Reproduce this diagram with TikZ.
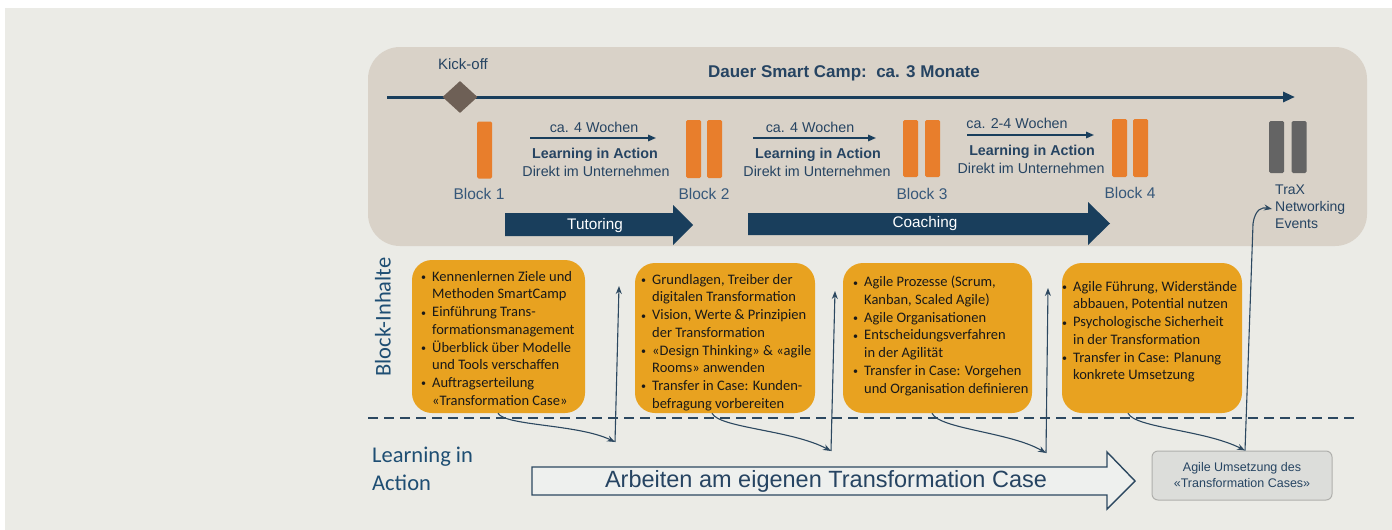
\documentclass[tikz,border=0pt]{standalone}
\usepackage{fontspec}
\setmainfont{Liberation Sans}
\newfontfamily\carlito{Carlito}
\usetikzlibrary{arrows.meta,shapes.geometric,calc}
\definecolor{bgc}{RGB}{235,235,230}
\definecolor{panelc}{RGB}{217,210,200}
\definecolor{navy}{RGB}{25,62,92}
\definecolor{txtc}{RGB}{38,68,98}
\definecolor{blkc}{RGB}{55,88,122}
\definecolor{barc}{RGB}{232,126,44}
\definecolor{boxc}{RGB}{232,162,32}
\definecolor{diac}{RGB}{110,96,86}
\definecolor{greybarc}{RGB}{100,100,100}
\definecolor{connc}{RGB}{44,72,96}
\definecolor{agc}{RGB}{220,221,218}
\definecolor{agb}{RGB}{175,175,172}
\definecolor{bigfill}{RGB}{238,240,238}
\definecolor{sidec}{RGB}{30,78,115}
\newcommand\bl{\makebox[11pt][l]{\raisebox{0.6pt}{\fontsize{10}{10}\selectfont\textbullet}}}
\newcommand\cl{\hspace*{11pt}}
\begin{document}
\begin{tikzpicture}[x=1pt,y=-1pt,
  panelst/.style={fill=panelc, draw=none, rounded corners=32pt, inner sep=0, minimum width=999pt, minimum height=199pt},
  bar/.style={fill=barc, draw=none, inner sep=0, minimum width=15pt, rounded corners=1.5pt},
  gbar/.style={fill=greybarc, draw=none, inner sep=0, minimum width=15pt, rounded corners=1.5pt},
  toptext/.style={text=txtc, inner sep=0, font=\fontsize{14.3}{17}\selectfont},
  boldtext/.style={text=txtc, inner sep=0, font=\bfseries\fontsize{14.3}{17}\selectfont},
  blocklbl/.style={text=blkc, inner sep=0, font=\fontsize{15.5}{18}\selectfont},
  weeks/.style={draw=navy, line width=1.6pt, -{Triangle[length=8pt,width=6.5pt]}},
  fat/.style={fill=navy, draw=none},
  fattext/.style={text=white, inner sep=0, font=\fontsize{15.3}{18}\selectfont},
  cbox/.style={fill=boxc, draw=none, rounded corners=20pt, inner sep=0},
  ctext/.style={anchor=north west, inner sep=0, align=left, text=black!90, font=\carlito\fontsize{14.5}{17.7}\selectfont},
  conn/.style={draw=connc, line width=1.1pt, -{Stealth[length=8pt,width=6pt]}},
  sidelbl/.style={text=sidec, inner sep=0, font=\carlito\fontsize{22.5}{28}\selectfont}
]
\useasboundingbox (0,0) rectangle (1392,530);
\fill[white] (0,0) rectangle (1392,530);
\fill[bgc] (5,8) rectangle (1392,530);

% top panel
\node[panelst] (panel) at (867.5,146.5) {};

% timeline
\coordinate (tl0) at (387,97);
\coordinate (tl1) at (1295,97);
\draw[navy, line width=3pt, -{Triangle[length=12pt,width=10pt]}] (tl0) -- (tl1);
\node[diamond, fill=diac, draw=none, inner sep=0, minimum width=35pt, minimum height=32pt] (kick) at (460,97) {};
\node[text=txtc, inner sep=0, font=\fontsize{15}{18}\selectfont] (kicklbl) at (463,64) {Kick-off};
\node[text=txtc, inner sep=0, font=\bfseries\fontsize{17}{20}\selectfont] (dauer) at (844,73) {Dauer Smart Camp:\ \ ca. 3 Monate};

% blocks
\node[bar, minimum height=57pt] (b1a) at (484.5,150) {};
\node[blocklbl] (b1lbl) at (479,194) {Block 1};
\node[bar, minimum height=58pt] (b2a) at (693.5,149) {};
\node[bar, minimum height=58pt] (b2b) at (714.5,149) {};
\node[blocklbl] (b2lbl) at (704,194) {Block 2};
\node[bar, minimum height=57pt] (b3a) at (910.5,148.5) {};
\node[bar, minimum height=57pt] (b3b) at (932.5,148.5) {};
\node[blocklbl] (b3lbl) at (922,194) {Block 3};
\node[bar, minimum height=58pt] (b4a) at (1119.5,148) {};
\node[bar, minimum height=58pt] (b4b) at (1140.5,148) {};
\node[blocklbl] (b4lbl) at (1130,193) {Block 4};
\node[gbar, minimum height=52pt] (t1) at (1276.5,147) {};
\node[gbar, minimum height=52pt] (t2) at (1299,147) {};
\node[text=txtc, inner sep=0, anchor=north west, align=left, font=\fontsize{14}{16.7}\selectfont] (trax) at (1275,185) {TraX\\Networking\\Events};

% weeks segments
\node[toptext] (w1lbl) at (594,127) {ca. 4 Wochen};
\coordinate (w1a) at (530,138); \coordinate (w1b) at (656,138);
\draw[weeks] (w1a) -- (w1b);
\node[boldtext] (l1) at (595,155) {Learning in Action};
\node[toptext] (d1) at (596,171) {Direkt im Unternehmen};

\node[toptext] (w2lbl) at (810,127) {ca. 4 Wochen};
\coordinate (w2a) at (753,138); \coordinate (w2b) at (876,138);
\draw[weeks] (w2a) -- (w2b);
\node[boldtext] (l2) at (818,155) {Learning in Action};
\node[toptext] (d2) at (817,171) {Direkt im Unternehmen};

\node[toptext] (w3lbl) at (1017,123) {ca. 2-4 Wochen};
\coordinate (w3a) at (967,135); \coordinate (w3b) at (1094,135);
\draw[weeks] (w3a) -- (w3b);
\node[boldtext] (l3) at (1032,152) {Learning in Action};
\node[toptext] (d3) at (1031,168) {Direkt im Unternehmen};

% fat arrows
\fill[fat] (505,213) -- (673,213) -- (673,205) -- (693,225) -- (673,245) -- (673,236) -- (505,236) -- cycle;
\node[fattext] (tut) at (595,226) {Tutoring};
\fill[fat] (748,213) -- (1088,213) -- (1088,202) -- (1110,223.5) -- (1088,245) -- (1088,235) -- (748,235) -- cycle;
\node[fattext] (coach) at (925,224) {Coaching};

% side labels
\node[sidelbl, rotate=90] (bi) at (383,317) {Block-Inhalte};
\node[sidelbl, anchor=north west, align=left] (lia) at (372,447) {Learning in\\Action};

% content boxes
\node[cbox, minimum width=173pt, minimum height=153pt] (c1) at (498.5,336.5) {};
\node[cbox, minimum width=180pt, minimum height=150pt] (c2) at (725,338) {};
\node[cbox, minimum width=189pt, minimum height=150pt] (c3) at (937.5,338) {};
\node[cbox, minimum width=180pt, minimum height=150pt] (c4) at (1152,338) {};

\node[ctext] (c1t) at (421,271) {\bl Kennenlernen Ziele und\\\cl Methoden SmartCamp\\\bl Einführung Trans-\\\cl formationsmanagement\\\bl Überblick über Modelle\\\cl und Tools verschaffen\\\bl Auftragserteilung\\\cl «Transformation Case»};
\node[ctext] (c2t) at (641,274) {\bl Grundlagen, Treiber der\\\cl digitalen Transformation\\\bl Vision, Werte \& Prinzipien\\\cl der Transformation\\\bl «Design Thinking» \& «agile\\\cl Rooms» anwenden\\\bl Transfer in Case: Kunden-\\\cl befragung vorbereiten};
\node[ctext] (c3t) at (853,276) {\bl Agile Prozesse (Scrum,\\\cl Kanban, Scaled Agile)\\\bl Agile Organisationen\\\bl Entscheidungsverfahren\\\cl in der Agilität\\\bl Transfer in Case: Vorgehen\\\cl und Organisation definieren};
\node[ctext] (c4t) at (1062,281) {\bl Agile Führung, Widerstände\\\cl abbauen, Potential nutzen\\\bl Psychologische Sicherheit\\\cl in der Transformation\\\bl Transfer in Case: Planung\\\cl konkrete Umsetzung};

% dashed separator
\coordinate (ds0) at (368,418);
\coordinate (ds1) at (1357,418);
\draw[connc, line width=1.2pt, dash pattern=on 10pt off 6pt] (ds0) -- (ds1);

% big hollow arrow
\draw[fill=bigfill, draw=connc, line width=1.4pt] (532,467) -- (1107,467) -- (1107,452) -- (1135,481) -- (1107,509) -- (1107,495) -- (532,495) -- cycle;
\node[text=txtc, inner sep=0, font=\fontsize{23.5}{28}\selectfont] (arb) at (826,481) {Arbeiten am eigenen Transformation Case};

% agile box
\node[fill=agc, draw=agb, line width=1pt, rounded corners=6pt, minimum width=180pt, minimum height=49pt, inner sep=0, align=center, text=txtc, font=\fontsize{12.5}{16}\selectfont] (ag) at (1242,475.5) {Agile Umsetzung des\\«Transformation Cases»};

% connectors
\coordinate (v1b) at (615,442); \coordinate (v1t) at (619,286);
\coordinate (v2b) at (831,451); \coordinate (v2t) at (835,291);
\coordinate (v3b) at (1046,453); \coordinate (v3t) at (1048,288);
\draw[conn] ([xshift=-0.5pt]c1.south) .. controls (505,426) and (578,424) .. (v1b);
\draw[conn] (v1b) -- (v1t);
\draw[conn] ([xshift=-13pt]c2.south) .. controls (719,428) and (792,430) .. (v2b);
\draw[conn] (v2b) -- (v2t);
\draw[conn] ([xshift=-5.5pt]c3.south) .. controls (939,429) and (1010,432) .. (v3b);
\draw[conn] (v3b) -- (v3t);
\draw[conn] ([xshift=-24pt]c4.south) .. controls (1135,428) and (1205,430) .. ([xshift=3pt]ag.north);
\draw[conn] ([xshift=3pt]ag.north) -- (1253,224) .. controls (1255,209) and (1262,207) .. ([xshift=-3pt,yshift=-24pt]trax.north west);
\end{tikzpicture}
\end{document}
